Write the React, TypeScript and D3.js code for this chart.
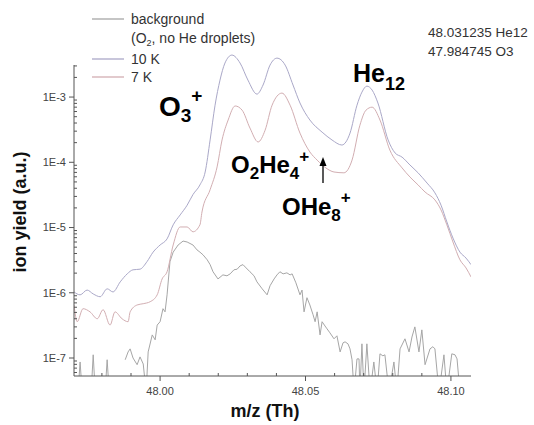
import React, { useEffect } from "react";
import * as d3 from "d3";

// ---- data ----
const mz10K = [47.9704, 47.9725, 47.9749, 47.977, 47.9794, 47.9818, 47.9838, 47.9863, 47.9887, 47.9907, 47.9931, 47.9955, 47.9976, 48.0, 48.0024, 48.0045, 48.0069, 48.0093, 48.0113, 48.0137, 48.0155, 48.0172, 48.0189, 48.0206, 48.0223, 48.0247, 48.0275, 48.0302, 48.0333, 48.0354, 48.0378, 48.0402, 48.043, 48.0457, 48.0481, 48.0515, 48.0557, 48.0591, 48.0625, 48.0653, 48.0677, 48.0694, 48.0711, 48.0729, 48.0749, 48.0784, 48.0808, 48.0832, 48.0859, 48.0887, 48.0918, 48.0945, 48.0966, 48.0986, 48.1007, 48.1031, 48.1052, 48.1069];
const yield10K = [1.03e-6, 9.3e-7, 1.1e-6, 9.6e-7, 8.7e-7, 1.15e-6, 1.03e-6, 1.47e-6, 1.95e-6, 2.25e-6, 2.3e-6, 3.0e-6, 4.2e-6, 5.4e-6, 6.7e-6, 1.1e-5, 1.56e-5, 2.2e-5, 3.2e-5, 4.5e-5, 7.1e-5, 2.2e-4, 7.5e-4, 1.82e-3, 3.32e-3, 4.4e-3, 3.32e-3, 1.82e-3, 1.11e-3, 1.53e-3, 3.09e-3, 3.95e-3, 3.09e-3, 1.53e-3, 8.1e-4, 4.45e-4, 2.9e-4, 2.2e-4, 1.84e-4, 2.8e-4, 7.5e-4, 1.19e-3, 1.47e-3, 1.28e-3, 8.1e-4, 2.2e-4, 1.39e-4, 1.2e-4, 9.1e-5, 6.9e-5, 4.8e-5, 3.4e-5, 2.2e-5, 1.22e-5, 6.9e-6, 4.2e-6, 3.4e-6, 2.7e-6];

const mz7K = [47.9704, 47.9715, 47.9735, 47.9759, 47.9784, 47.9804, 47.9828, 47.9845, 47.9869, 47.989, 47.9897, 47.9921, 47.9942, 47.9966, 47.999, 48.0007, 48.0024, 48.0045, 48.0069, 48.0093, 48.0113, 48.0137, 48.0144, 48.0172, 48.0196, 48.0213, 48.0234, 48.0258, 48.0282, 48.0309, 48.0337, 48.0361, 48.0385, 48.0419, 48.0447, 48.0481, 48.0515, 48.054, 48.057, 48.0598, 48.0632, 48.066, 48.0687, 48.0708, 48.0729, 48.0756, 48.079, 48.0832, 48.0859, 48.0887, 48.0911, 48.0945, 48.0966, 48.0986, 48.1007, 48.1031, 48.1052, 48.1069];
const yield7K = [6.5e-7, 3.6e-7, 5.7e-7, 5.1e-7, 4.0e-7, 5.5e-7, 3.2e-7, 5.1e-7, 4.0e-7, 3.6e-7, 5.1e-7, 6.5e-7, 6.8e-7, 7.3e-7, 9.3e-7, 1.63e-6, 2.1e-6, 5.4e-6, 1.02e-5, 1.02e-5, 8.6e-6, 1.1e-5, 1.73e-5, 3.8e-5, 8.5e-5, 2.2e-4, 4.45e-4, 7.3e-4, 6.3e-4, 3.35e-4, 2.05e-4, 3.1e-4, 7.5e-4, 1.15e-3, 7.5e-4, 2.8e-4, 1.44e-4, 1.08e-4, 8.2e-5, 7.1e-5, 6.9e-5, 1.08e-4, 3.7e-4, 6.3e-4, 7.0e-4, 4.45e-4, 1.54e-4, 8.2e-5, 5.96e-5, 4.5e-5, 3.5e-5, 2.65e-5, 1.86e-5, 1.1e-5, 6.0e-6, 3.2e-6, 2.4e-6, 1.75e-6];

const mzBg = [47.9704, 47.9718, 47.9725, 47.9732, 47.9763, 47.977, 47.9777, 47.9811, 47.9818, 47.9825, 47.9845, 47.988, 47.989, 47.9897, 47.9907, 47.9921, 47.9931, 47.9942, 47.9952, 47.9959, 47.9973, 47.9983, 47.999, 48.0, 48.001, 48.0017, 48.0024, 48.0034, 48.0045, 48.0062, 48.0079, 48.0093, 48.0113, 48.0127, 48.0137, 48.0148, 48.0162, 48.0172, 48.0182, 48.0199, 48.0216, 48.023, 48.0241, 48.0254, 48.0265, 48.0275, 48.0285, 48.0296, 48.0309, 48.0323, 48.0333, 48.0351, 48.0368, 48.0378, 48.0392, 48.0402, 48.0412, 48.0423, 48.0436, 48.0447, 48.0454, 48.0467, 48.0481, 48.0488, 48.0495, 48.0505, 48.0515, 48.0526, 48.0533, 48.054, 48.055, 48.0557, 48.0567, 48.0574, 48.0584, 48.0598, 48.0608, 48.0619, 48.0629, 48.0636, 48.0646, 48.0653, 48.066, 48.0667, 48.0677, 48.0684, 48.0687, 48.0694, 48.0701, 48.0711, 48.0722, 48.0735, 48.0746, 48.0756, 48.0766, 48.0773, 48.0787, 48.0804, 48.0814, 48.0825, 48.0842, 48.0856, 48.0866, 48.0876, 48.089, 48.09, 48.0911, 48.0928, 48.0938, 48.0945, 48.0959, 48.0976, 48.0986, 48.1003, 48.1014, 48.1021, 48.1031];
const yieldBg: (number | null)[] = [3e-8, 3e-8, 8.7e-8, 3e-8, 3e-8, 1.12e-7, 3e-8, 3e-8, 9.4e-8, 3e-8, null, 9.4e-8, 1.24e-7, 1.38e-7, 1.0e-7, 7.9e-8, 1.04e-7, 8.1e-8, 3e-8, 1.24e-7, 2.26e-7, 1.9e-7, 3.2e-7, 3.6e-7, 5.7e-7, 5.1e-7, 9.3e-7, 3.0e-6, 4.2e-6, 5.4e-6, 6.2e-6, 6.0e-6, 5.4e-6, 4.54e-6, 4.2e-6, 3.8e-6, 3.2e-6, 2.7e-6, 2.1e-6, 1.63e-6, 1.88e-6, 1.82e-6, 1.95e-6, 2.25e-6, 2.3e-6, 2.58e-6, 2.7e-6, 2.4e-6, 2.1e-6, 1.82e-6, 1.47e-6, 1.15e-6, 9.3e-7, 1.28e-6, 1.63e-6, 1.88e-6, 2.1e-6, 1.95e-6, 2.02e-6, 1.88e-6, 1.95e-6, 1.42e-6, 9.3e-7, 1.1e-6, 5.1e-7, 8.4e-7, 6.5e-7, 4.6e-7, 3.6e-7, 5.1e-7, 2.26e-7, 3.6e-7, 3.1e-7, 2.8e-7, 2.43e-7, 1.97e-7, 2.19e-7, 1.24e-7, 1.71e-7, 1.77e-7, 1.65e-7, 1.38e-7, 9.4e-8, 3e-8, 9.7e-8, 9.7e-8, 3e-8, 1.65e-7, 3e-8, 1.65e-7, 3e-8, 8.7e-8, 3e-8, 1.16e-7, 1.08e-7, 1.12e-7, 3e-8, 8.7e-8, 3e-8, 1.38e-7, 1.97e-7, 1.24e-7, 2.1e-7, 3.0e-7, 1.24e-7, 2.7e-7, 7.9e-8, 1.38e-7, 1.49e-7, 1.38e-7, 3e-8, 1.12e-7, 3e-8, 1.16e-7, 1.12e-7, 9.7e-8, 3e-8];

const xMajorTicks = [48.0, 48.05, 48.1];
const xMinorTicks = [47.98, 47.99, 48.01, 48.02, 48.03, 48.04, 48.06, 48.07, 48.08, 48.09];
const yMajorTicks = [1e-7, 1e-6, 1e-5, 1e-4, 1e-3];
const yTickLabels = ["1E-7", "1E-6", "1E-5", "1E-4", "1E-3"];
const xTickLabels = ["48.00", "48.05", "48.10"];

const legendItems = ["background", "10 K", "7 K"];
const noteLines = ["48.031235 He12", "47.984745 O3"];

const COLORS = { bg: "#a6a6a6", k10: "#aaa8c8", k7: "#d2aeb2" };

export default function App() {
  useEffect(() => {
    document.body.style.margin = "0";
  }, []);

  const W = 534, H = 425;
  const left = 74, right = 471, top = 65, bottom = 376;
  const x = d3.scaleLinear().domain([47.9704, 48.1069]).range([left, right]);
  const y = d3.scaleLog().domain([5.3e-8, 3.1e-3]).range([bottom, top]);

  const smooth = d3
    .line<[number, number]>()
    .curve(d3.curveMonotoneX)
    .x((d) => x(d[0]))
    .y((d) => y(d[1]));
  const jagged = d3
    .line<[number, number | null]>()
    .defined((d) => d[1] != null)
    .x((d) => x(d[0]))
    .y((d) => y(d[1] as number));

  const p10 = smooth(mz10K.map((m, i) => [m, yield10K[i]] as [number, number]));
  const p7 = smooth(mz7K.map((m, i) => [m, yield7K[i]] as [number, number]));
  const pBg = jagged(mzBg.map((m, i) => [m, yieldBg[i]] as [number, number | null]));

  const yMinor: number[] = [];
  for (let e = -8; e <= -3; e++) {
    for (let k = 2; k <= 9; k++) {
      const v = k * Math.pow(10, e);
      if (v >= 5.3e-8 && v <= 3.1e-3) yMinor.push(v);
    }
  }

  const font = "Arial, 'Liberation Sans', sans-serif";
  const legendY = [19, 59, 77];
  const legendColors = [COLORS.bg, COLORS.k10, COLORS.k7];

  return (
    <svg width={W} height={H} style={{ position: "absolute", left: 0, top: 0, background: "#fff" }} fontFamily={font}>
      <defs>
        <clipPath id="plotclip">
          <rect x={left} y={0} width={right - left} height={bottom} />
        </clipPath>
      </defs>
      <rect x={0} y={0} width={W} height={H} fill="#fff" />

      {/* curves */}
      <g clipPath="url(#plotclip)" fill="none" strokeWidth={1} strokeLinejoin="round">
        <path d={pBg || ""} stroke={COLORS.bg} />
        <path d={p7 || ""} stroke={COLORS.k7} />
        <path d={p10 || ""} stroke={COLORS.k10} />
      </g>

      {/* axes */}
      <g stroke="#555" strokeWidth={1}>
        <line x1={left} x2={left} y1={top} y2={bottom} />
        <line x1={left} x2={right} y1={bottom} y2={bottom} />
        {yMajorTicks.map((v) => (
          <line key={"ym" + v} x1={left - 5} x2={left} y1={y(v)} y2={y(v)} />
        ))}
        {yMinor.map((v) => (
          <line key={"yn" + v} x1={left} x2={left + 3} y1={y(v)} y2={y(v)} />
        ))}
        {xMajorTicks.map((v) => (
          <line key={"xm" + v} x1={x(v)} x2={x(v)} y1={bottom} y2={bottom + 5} />
        ))}
        {xMinorTicks.map((v) => (
          <line key={"xn" + v} x1={x(v)} x2={x(v)} y1={bottom - 3} y2={bottom} />
        ))}
      </g>
      <g fill="#444" fontSize={11}>
        {yMajorTicks.map((v, i) => (
          <text key={"yl" + v} x={left - 8} y={y(v)} dy="0.35em" textAnchor="end">
            {yTickLabels[i]}
          </text>
        ))}
        {xMajorTicks.map((v, i) => (
          <text key={"xl" + v} x={x(v)} y={bottom + 19} textAnchor="middle">
            {xTickLabels[i]}
          </text>
        ))}
      </g>

      {/* axis titles */}
      <text transform="translate(26,212) rotate(-90)" textAnchor="middle" fontSize={18} fontWeight="bold" fill="#111">
        ion yield (a.u.)
      </text>
      <text x={265} y={417} textAnchor="middle" fontSize={18} fontWeight="bold" fill="#111">
        m/z (Th)
      </text>

      {/* legend */}
      <g fontSize={14} fill="#333">
        {legendItems.map((name, i) => (
          <g key={name}>
            <line x1={92} x2={124} y1={legendY[i]} y2={legendY[i]} stroke={legendColors[i]} strokeWidth={1.3} />
            <text x={131} y={legendY[i] + 5}>{name}</text>
          </g>
        ))}
        <text x={131} y={43}>
          (O<tspan fontSize={9} dy={3}>2</tspan>
          <tspan dy={-3}>, no He droplets)</tspan>
        </text>
      </g>

      {/* note */}
      <g fontSize={13.5} fill="#333">
        {noteLines.map((t, i) => (
          <text key={t} x={428} y={37 + i * 19}>{t}</text>
        ))}
      </g>

      {/* peak annotations */}
      <g fontWeight="bold" fill="#000">
        <text x={159} y={116} fontSize={28}>
          O<tspan fontSize={19} dy={6}>3</tspan>
          <tspan fontSize={19} dy={-20}>+</tspan>
        </text>
        <text x={353} y={82} fontSize={25}>
          He<tspan fontSize={18} dy={8}>12</tspan>
        </text>
        <text x={231} y={173} fontSize={24}>
          O<tspan fontSize={17} dy={6}>2</tspan>
          <tspan dy={-6}>He</tspan>
          <tspan fontSize={17} dy={6}>4</tspan>
          <tspan fontSize={17} dy={-17}>+</tspan>
        </text>
        <text x={282} y={215} fontSize={24}>
          OHe<tspan fontSize={17} dy={6}>8</tspan>
          <tspan fontSize={17} dy={-18}>+</tspan>
        </text>
      </g>
      <g>
        <line x1={323} x2={323} y1={183} y2={164} stroke="#000" strokeWidth={1.3} />
        <path d="M323,157 L319.5,166 L326.5,166 Z" fill="#000" />
      </g>
    </svg>
  );
}
